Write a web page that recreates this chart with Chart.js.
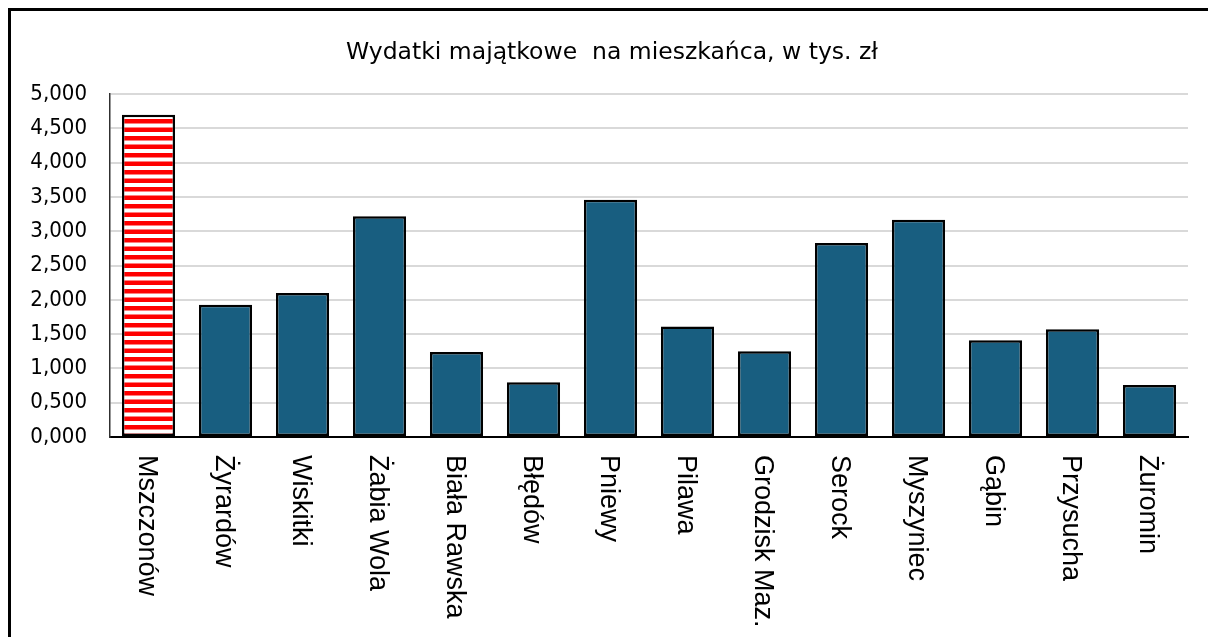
<!DOCTYPE html>
<html>
<head>
<meta charset="utf-8">
<script src="https://cdn.jsdelivr.net/npm/chart.js@4.4.1/dist/chart.umd.min.js"></script>
<style>
    html, body { margin: 0; padding: 0; background: #fff; overflow: hidden; }
    #frame {
        position: absolute; left: 8px; top: 8px;
        width: 1300px; height: 700px;
        border-left: 3px solid #000; border-top: 3px solid #000;
    }
    #expenseChart { position: absolute; left: 0; top: 0; }
</style>
</head>
<body>
<div id="frame"></div>
<canvas id="expenseChart" width="1208" height="637"></canvas>
<script>
const categories = ['Mszczonów', 'Żyrardów', 'Wiskitki', 'Żabia Wola', 'Biała Rawska', 'Błędów', 'Pniewy',
    'Pilawa', 'Grodzisk Maz.', 'Serock', 'Myszyniec', 'Gąbin', 'Przysucha', 'Żuromin'];
const values = [4.70, 1.93, 2.10, 3.22, 1.24, 0.80, 3.46, 1.61, 1.25, 2.83, 3.17, 1.41, 1.57, 0.76];
const yTicks = [0, 0.5, 1, 1.5, 2, 2.5, 3, 3.5, 4, 4.5, 5];
const highlighted = 'Mszczonów';

const tahomaLike = "'DejaVu Sans Condensed', 'DejaVu Sans', sans-serif";

// red/white horizontal stripes for the highlighted bar
function stripePattern(ctx) {
    const tile = document.createElement('canvas');
    tile.width = 4;
    tile.height = 17;
    const t = tile.getContext('2d');
    t.fillStyle = '#fff';
    t.fillRect(0, 0, 4, 17);
    t.fillStyle = '#ff0000';
    t.fillRect(0, 0, 4, 4.5);
    t.fillRect(0, 8.5, 4, 4.5);
    return ctx.createPattern(tile, 'repeat');
}

// category labels read top-to-bottom (rotated clockwise)
const verticalLabels = {
    id: 'verticalLabels',
    afterDraw(chart) {
        const c = chart.ctx;
        const xs = chart.scales.x;
        c.save();
        c.font = "27px 'Liberation Sans', Arial, sans-serif";
        c.fillStyle = '#000';
        c.textAlign = 'left';
        c.textBaseline = 'middle';
        categories.forEach((name, i) => {
            c.save();
            c.translate(xs.getPixelForValue(i) - 2, chart.chartArea.bottom + 18);
            c.rotate(Math.PI / 2);
            c.fillText(name, 0, 0);
            c.restore();
        });
        c.restore();
    }
};

function renderChart() {
    const ctx = document.getElementById('expenseChart').getContext('2d');
    const stripes = stripePattern(ctx);

    new Chart(ctx, {
        type: 'bar',
        data: {
            labels: categories,
            datasets: [{
                data: values,
                backgroundColor: categories.map(c => c === highlighted ? stripes : '#185e80'),
                borderColor: '#000',
                borderWidth: 2.5,
                borderSkipped: false,
                categoryPercentage: 1,
                barPercentage: 0.69
            }]
        },
        options: {
            responsive: false,
            animation: false,
            layout: { padding: { left: 16, right: 0, top: 0, bottom: 0 } },
            plugins: {
                legend: { display: false },
                tooltip: { enabled: false },
                title: {
                    display: true,
                    text: 'Wydatki majątkowe  na mieszkańca, w tys. zł',
                    color: '#000',
                    font: { family: "'DejaVu Sans', sans-serif", size: 23.5, weight: 'normal' },
                    padding: { top: 39, bottom: 27 }
                }
            },
            scales: {
                x: {
                    ticks: { display: false },
                    grid: { display: false },
                    border: { display: true, color: '#000', width: 2 },
                    afterFit: scale => { scale.height = 200; }
                },
                y: {
                    min: 0,
                    max: 5,
                    afterBuildTicks: scale => { scale.ticks = yTicks.map(v => ({ value: v })); },
                    ticks: {
                        color: '#000',
                        padding: 23,
                        font: { family: tahomaLike, size: 22 },
                        callback: v => v.toFixed(3).replace('.', ',')
                    },
                    grid: { color: '#d9d9d9', lineWidth: 2, drawTicks: false },
                    border: { display: true, color: '#303030', width: 1.5 },
                    afterFit: scale => { scale.width = 94; }
                },
                // empty strip on the right so the title centres like the original
                pad: {
                    type: 'linear',
                    position: 'right',
                    ticks: { display: false },
                    grid: { display: false, drawTicks: false },
                    border: { display: false },
                    afterFit: scale => { scale.width = 20; }
                }
            }
        },
        plugins: [verticalLabels]
    });
}

renderChart();
</script>
</body>
</html>
